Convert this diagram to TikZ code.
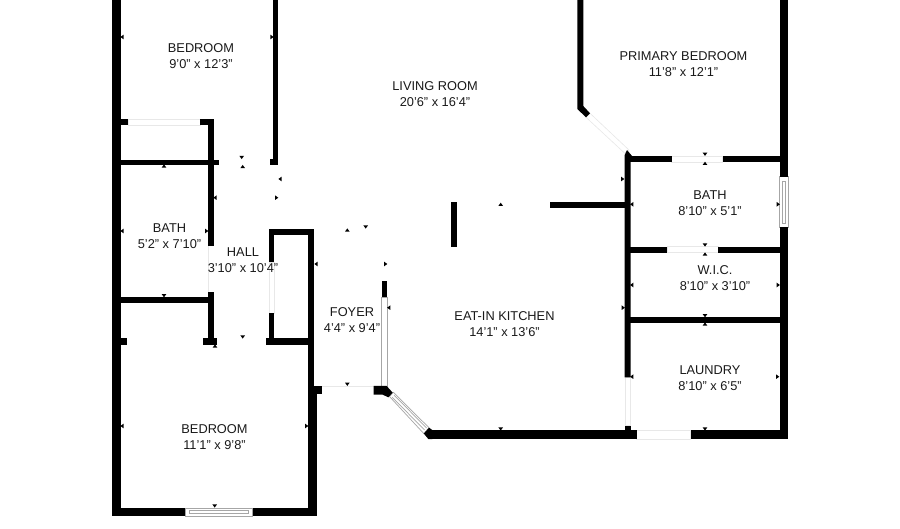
\documentclass[tikz,border=0pt]{standalone}
\usepackage{fontspec}
\setmainfont{Liberation Sans}
\tikzset{
  wall/.style={fill=black},
  window/.style={draw=black!35, fill=white, line width=0.7pt},
  door/.style={draw=black!9, fill=white, line width=0.6pt},
  room/.style={align=center, inner sep=0pt, yshift=-0.8pt, text=black!90, font=\fontsize{12.8}{16}\selectfont},
  tickl/.pic={\fill (-1.6,0) -- (1.6,-2.3) -- (1.6,2.3) -- cycle;},
  tickr/.pic={\fill (1.6,0) -- (-1.6,-2.3) -- (-1.6,2.3) -- cycle;},
  ticku/.pic={\fill (0,-1.6) -- (-2.3,1.6) -- (2.3,1.6) -- cycle;},
  tickd/.pic={\fill (0,1.6) -- (-2.3,-1.6) -- (2.3,-1.6) -- cycle;}
}
\begin{document}
\begin{tikzpicture}[x=1pt, y=-1pt]
\useasboundingbox (0,0) rectangle (900,529);

%% doors
\draw[door] (128,119.5) rectangle (200,125.3);     %% closet
\draw[door] (208,246) -- (208,292);                %% hall, bath side
\draw[door] (269,262) rectangle (274.3,313);       %% hall closet
\draw[door] (322,386) -- (373.7,386);              %% foyer
\draw[door] (625,377.3) rectangle (630.7,425.7);   %% laundry side
\draw[door] (636.7,430) rectangle (690.7,439);     %% laundry bottom
\draw[door] (671.7,156) rectangle (722.7,162);     %% bath top
\draw[door] (667.3,246.7) rectangle (718.3,252.7); %% closet, bath side
\draw[door] (586,117.3) -- (590,113.3) -- (629,150) -- (625,153.5) -- cycle; %% primary

%% windows
\draw[window] (185,508) rectangle (252.7,516);
\draw[window] (189.5,510.5) rectangle (248.3,513.5);
\draw[window] (779.3,176.7) rectangle (788,227.3);
\draw[window] (782,181) rectangle (785.3,223);
\draw[window] (381.7,297) rectangle (387.3,386);
\draw[window] (389.5,396.5) -- (393.3,392.3) -- (429,427.7) -- (423.8,433.6) -- cycle;
\draw[window] (392,397) -- (424.5,430);
\draw[window] (394,395) -- (426.5,428);

%% outer walls
\fill[wall] (112.3,0) rectangle (120.7,516);
\fill[wall] (112.3,508) rectangle (185,516);
\fill[wall] (252.7,508) rectangle (316.7,516);
\fill[wall] (308,386) rectangle (316.7,516);
\fill[wall] (308,385.7) rectangle (322,394.3);
\fill[wall] (780,0) rectangle (788,176.7);
\fill[wall] (780,227.3) rectangle (788,439);
\fill[wall] (690.7,430) rectangle (788,439);
\fill[wall] (428.3,430) rectangle (636.7,439);
\fill[wall] (423.8,433.6) -- (429,427.7) -- (432.3,430) -- (432.3,439) -- (428.3,439) -- cycle;
\fill[wall] (373.7,386) -- (386.7,386) -- (392.7,392.7) -- (388.3,397.3) -- (382.7,394.7) -- (373.7,394.7) -- cycle;
\fill[wall] (381.7,281) rectangle (387.3,297.3);

%% inner walls, left
\fill[wall] (273,0) rectangle (278.3,165);
\fill[wall] (269.5,159) rectangle (278.3,165);
\fill[wall] (120,119.5) rectangle (128,125.3);
\fill[wall] (200,119.5) rectangle (214,125.3);
\fill[wall] (208,119.5) rectangle (214,246);
\fill[wall] (120,160) rectangle (219.3,165);
\fill[wall] (120,297.3) rectangle (214,303.3);
\fill[wall] (208,292) rectangle (214,344.7);
\fill[wall] (203.3,338) rectangle (217.3,344.7);
\fill[wall] (120,338) rectangle (126.7,344.7);

%% hall closet
\fill[wall] (269,228.7) rectangle (314,234.7);
\fill[wall] (269,228.7) rectangle (274.3,262);
\fill[wall] (269,313) rectangle (274.3,344.7);
\fill[wall] (265.7,338) rectangle (314,344.7);
\fill[wall] (308,228.7) rectangle (314,390);

%% inner walls, middle and right
\fill[wall] (451.3,202) rectangle (457.3,247.3);
\fill[wall] (550,202) rectangle (630,208);
\fill[wall] (577.3,0) -- (583.3,0) -- (583.3,106) -- (590,113.3) -- (586,117.3) -- (577.3,109) -- cycle;
\fill[wall] (624.7,155) -- (627,150) -- (632,156) -- (630.7,162) -- (630.7,377.3) -- (624.7,377.3) -- cycle;
\fill[wall] (625,425.7) rectangle (630.7,431);
\fill[wall] (630,156) rectangle (671.7,162);
\fill[wall] (722.7,156) rectangle (781,162);
\fill[wall] (630,246.7) rectangle (667.3,252.7);
\fill[wall] (718.3,246.7) rectangle (781,252.7);
\fill[wall] (630,317.3) rectangle (781,323);

%% room labels
\node[room] (bedroomone) at (201,55) {BEDROOM\\9'0" x 12'3"};
\node[room] (living) at (435,93) {LIVING ROOM\\20'6" x 16'4"};
\node[room] (primary) at (683.5,63) {PRIMARY BEDROOM\\11'8" x 12'1"};
\node[room] (bathleft) at (169.5,235) {BATH\\5'2" x 7'10"};
\node[room] (hall) at (243,259) {HALL\\3'10" x 10'4"};
\node[room] (foyer) at (352,319.5) {FOYER\\4'4" x 9'4"};
\node[room] (kitchen) at (504.5,323) {EAT-IN KITCHEN\\14'1" x 13'6"};
\node[room] (bathright) at (710,202.5) {BATH\\8'10" x 5'1"};
\node[room] (wic) at (715,277.5) {W.I.C.\\8'10" x 3'10"};
\node[room] (laundry) at (710,377) {LAUNDRY\\8'10" x 6'5"};
\node[room] (bedroomtwo) at (214.5,436) {BEDROOM\\11'1" x 9'8"};

%% dimension ticks
\pic at (122,37) {tickl};      %% bedroom one
\pic at (272,37) {tickr};
\pic at (241.7,157.5) {tickd};
\pic at (242.7,166.5) {ticku};
\pic at (164,166) {ticku};     %% bath left
\pic at (122,231) {tickl};
\pic at (206.7,231) {tickr};
\pic at (164,295.7) {tickd};
\pic at (280,179) {tickl};     %% hall
\pic at (276.7,197.7) {tickr};
\pic at (215,197.7) {tickl};
\pic at (242.7,337) {tickd};
\pic at (215,346) {ticku};     %% bedroom two
\pic at (122,426) {tickl};
\pic at (306.7,426) {tickr};
\pic at (214.7,506) {tickd};
\pic at (347.3,230) {ticku};   %% foyer
\pic at (365.7,227) {tickd};
\pic at (316,264) {tickl};
\pic at (385.7,264) {tickr};
\pic at (347.3,384.3) {tickd};
\pic at (388.7,307.7) {tickl}; %% kitchen
\pic at (623.3,307.7) {tickr};
\pic at (500.7,204.3) {ticku};
\pic at (500.7,429) {tickd};
\pic at (622.7,179) {tickr};   %% bath right
\pic at (631.7,204.3) {tickl};
\pic at (778.3,204.3) {tickr};
\pic at (705,154.3) {tickd};
\pic at (705,163.3) {ticku};
\pic at (705,245) {tickd};
\pic at (705,254) {ticku};     %% closet
\pic at (631.7,285) {tickl};
\pic at (778.3,285) {tickr};
\pic at (705,315.7) {tickd};
\pic at (705,324) {ticku};     %% laundry
\pic at (631.7,376.7) {tickl};
\pic at (777.7,376.7) {tickr};
\pic at (705,429) {tickd};
\end{tikzpicture}
\end{document}
